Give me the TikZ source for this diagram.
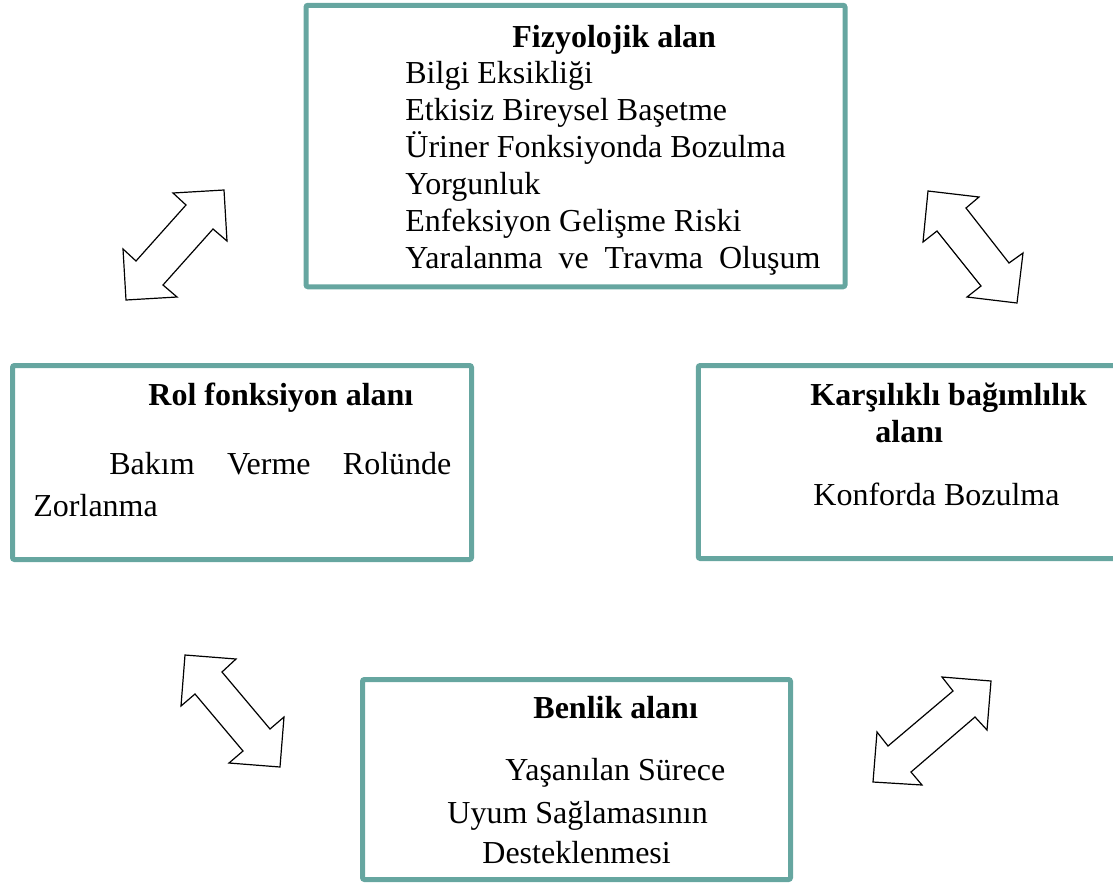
\documentclass[tikz,border=0pt]{standalone}
\usepackage{fontspec}
\setmainfont{Liberation Serif}
\usetikzlibrary{positioning}
\definecolor{alanrengi}{HTML}{66A6A0}
\tikzstyle{alan}=[draw=alanrengi,line width=2.5pt,rounded corners=1pt,inner sep=0pt]
\tikzstyle{baslik}=[anchor=base west,inner sep=0pt,font=\fontsize{16}{18.5}\selectfont\bfseries]
\tikzstyle{metin}=[anchor=base west,inner sep=0pt,font=\fontsize{16}{18.5}\selectfont]
\tikzstyle{oku}=[draw=black,line width=0.6pt,fill=white,line join=miter]

\begin{document}
\begin{tikzpicture}[x=0.5pt,y=-0.5pt]
    \path[use as bounding box,clip] (0,0) rectangle (1113,884);

    % alanlar
    \node (fizyo) [alan,minimum width=269.5pt,minimum height=140.75pt] at (575.5,146) {};
    \node (rol) [alan,minimum width=229.5pt,minimum height=97pt] at (242,462.5) {};
    \node (karsi) [alan,minimum width=215.75pt,minimum height=96.5pt] at (914,462) {};
    \node (benlik) [alan,minimum width=214pt,minimum height=100pt] at (576.5,779.5) {};

    \node (fizyoB) [baslik] at (512,47) {Fizyolojik alan};
    \foreach \satir [count=\i] in {Bilgi Eksikliği, Etkisiz Bireysel Başetme, Üriner Fonksiyonda Bozulma, Yorgunluk, Enfeksiyon Gelişme Riski, {\makebox[207.5pt][s]{Yaralanma ve Travma Oluşum}}}
        \node (fizyo\i) [metin] at (405,{83+37*(\i-1)}) {\satir};

    \node (rolB) [baslik] at (148,405) {Rol fonksiyon alanı};
    \node (rol1) [metin] at (109,474) {\makebox[171pt][s]{Bakım Verme Rolünde}};
    \node (rol2) [metin] at (33,516) {Zorlanma};

    \node (karsiB) [baslik] at (810,405) {Karşılıklı bağımlılık};
    \node (karsiB2) [baslik] at (875,442) {alanı};
    \node (karsi1) [metin] at (813,505) {Konforda Bozulma};

    \node (benlikB) [baslik] at (533,718) {Benlik alanı};
    \node (benlik1) [metin] at (505,780) {Yaşanılan Sürece};
    \node (benlik2) [metin] at (447,823) {Uyum Sağlamasının};
    \node (benlik3) [metin] at (482,863) {Desteklenmesi};

    % cift yonlu oklar
    \draw[oku] (173,193) -- (224,190) -- (227,241) -- (213,229) -- (163,285) -- (177,297) -- (126,300) -- (123,249) -- (136,261) -- (186,205) -- cycle;
    \draw[oku] (928,191) -- (979,197) -- (966,208) -- (1009,263) -- (1023,253) -- (1017,303) -- (967,297) -- (981,286) -- (937,231) -- (923,242) -- cycle;
    \draw[oku] (185,655) -- (236,659) -- (222,672) -- (270,729) -- (284,717) -- (280,767) -- (229,763) -- (243,751) -- (195,694) -- (181,706) -- cycle;
    \draw[oku] (942,677) -- (991,681) -- (987,730) -- (975,717) -- (911,772) -- (922,785) -- (873,782) -- (877,732) -- (888,746) -- (953,691) -- cycle;
\end{tikzpicture}
\end{document}
